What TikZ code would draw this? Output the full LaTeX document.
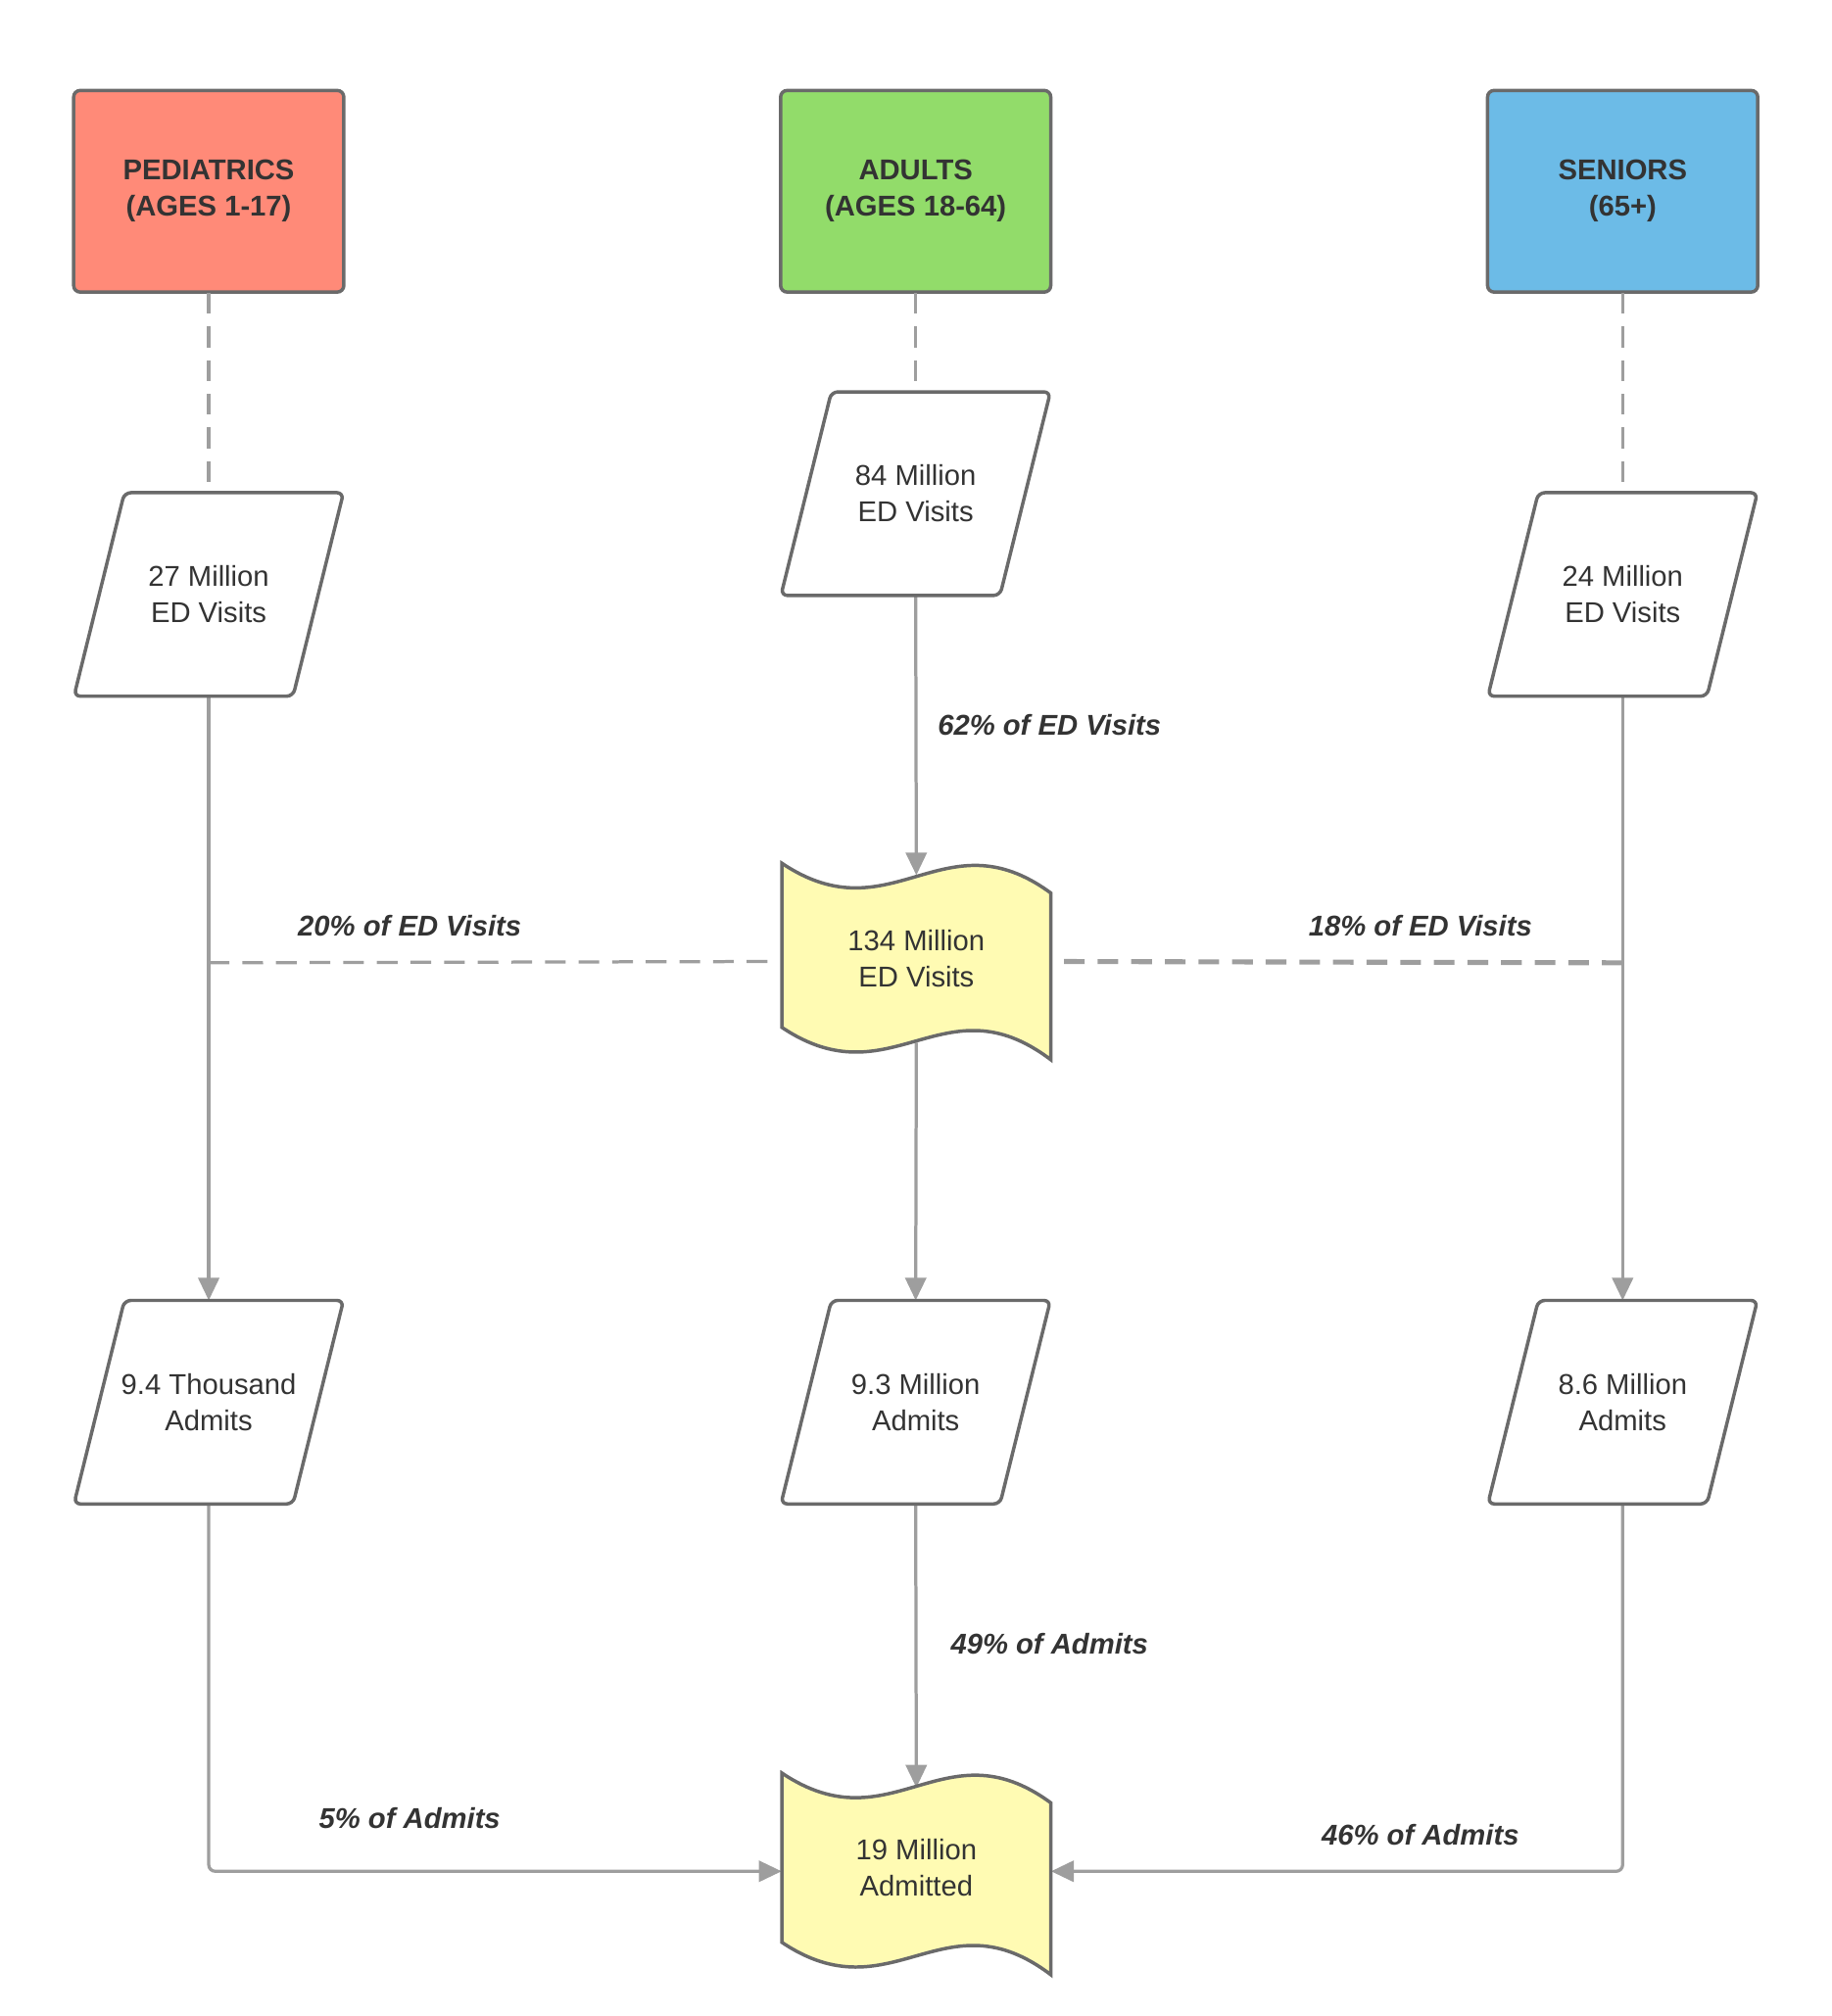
\documentclass[tikz,border=0pt]{standalone}
\usepackage{fontspec}
\setmainfont{Liberation Sans}
\usetikzlibrary{arrows.meta}
\definecolor{cred}{HTML}{FF8A78}
\definecolor{cgreen}{HTML}{92DC6A}
\definecolor{cblue}{HTML}{6CBBE7}
\definecolor{cyel}{HTML}{FFFBB3}
\definecolor{edge}{HTML}{6A6A6A}
\definecolor{conn}{HTML}{9E9E9E}
\definecolor{txt}{HTML}{333333}
\tikzset{
 box/.style={draw=none,minimum width=2.07cm,minimum height=1.56cm,inner sep=0pt,align=center,text=txt,font=\fontsize{6.3}{8}\selectfont},
 head/.style={box,font=\fontsize{6.3}{8}\selectfont\bfseries},
 shp/.style={draw=edge,line width=0.75pt,rounded corners=0.05cm},
 wv/.style={draw=edge,line width=0.75pt,fill=cyel},
 con/.style={draw=conn,line width=0.7pt,-{Triangle[length=5pt,width=4.6pt]}},
 dsh/.style={draw=conn,line width=0.7pt,dash pattern=on 0.16cm off 0.1cm},
 lab/.style={text=txt,font=\fontsize{6.3}{8}\selectfont\bfseries\itshape},
}
\newcommand\para[1]{\draw[shp,fill=white] ([xshift=0.39cm]#1.north west) -- (#1.north east) -- ([xshift=-0.39cm]#1.south east) -- (#1.south west) -- cycle;}
\begin{document}
\begin{tikzpicture}[x=0.01cm,y=-0.01cm]
\useasboundingbox (0,0) rectangle (1417,1560);
% header boxes
\draw[shp,fill=cred] (57,70) rectangle (266,226);
\draw[shp,fill=cgreen] (604,70) rectangle (813,226);
\draw[shp,fill=cblue] (1151,70) rectangle (1360,226);
\node[head] (hp) at (161.5,148) {PEDIATRICS\\(AGES 1-17)};
\node[head] (ha) at (708.5,148) {ADULTS\\(AGES 18-64)};
\node[head] (hs) at (1255.5,148) {SENIORS\\(65+)};
% parallelogram nodes
\node[box] (p1) at (161.5,460) {};
\node[box] (a1) at (708.5,382) {};
\node[box] (s1) at (1255.5,460) {};
\node[box] (p2) at (161.5,1085) {};
\node[box] (a2) at (708.5,1085) {};
\node[box] (s2) at (1255.5,1085) {};
% wave nodes
\node[box,minimum height=1.52cm] (w1) at (709,744) {};
\node[box,minimum height=1.52cm] (w2) at (709,1448) {};
\coordinate (bp) at (161.5,745);
\coordinate (bs) at (1255.5,745);
% connectors
\draw[dsh] (hp.south) -- (p1.north);
\draw[dsh] (ha.south) -- (a1.north);
\draw[dsh] (hs.south) -- (s1.north);
\draw[con] (p1.south) -- (p2.north);
\draw[con] (s1.south) -- (s2.north);
\draw[con] (a1.south) -- ([yshift=-0.1cm]w1.north);
\draw[con] ([yshift=0.14cm]w1.south) -- (a2.north);
\draw[con] (a2.south) -- ([yshift=-0.12cm]w2.north);
\draw[dsh] (bp) -- ([xshift=-0.1cm]w1.west);
\draw[con,draw=none] (bp) -- (w1.west);
\draw[dsh,line width=1.1pt] (bs) -- ([xshift=0.1cm]w1.east);
\draw[con,draw=none] (bs) -- (w1.east);
\draw[con,rounded corners=0.05cm] (p2.south) |- (w2.west);
\draw[con,rounded corners=0.05cm] (s2.south) |- (w2.east);
% shapes
\para{p1}\para{a1}\para{s1}\para{p2}\para{a2}\para{s2}
\draw[wv] (605,668) .. controls (690,725) and (730,630) .. (813,691) -- (813,820)
  .. controls (730,757) and (690,852) .. (605,795) -- cycle;
\draw[wv] (605,1372) .. controls (690,1429) and (730,1334) .. (813,1395) -- (813,1528)
  .. controls (730,1465) and (690,1560) .. (605,1503) -- cycle;
% texts
\node[box,minimum size=0pt] at (p1) {27 Million\\ED Visits};
\node[box,minimum size=0pt] at (a1) {84 Million\\ED Visits};
\node[box,minimum size=0pt] at (s1) {24 Million\\ED Visits};
\node[box,minimum size=0pt] at (p2) {9.4 Thousand\\Admits};
\node[box,minimum size=0pt] at (a2) {9.3 Million\\Admits};
\node[box,minimum size=0pt] at (s2) {8.6 Million\\Admits};
\node[box,minimum size=0pt] at (709,742) {134 Million\\ED Visits};
\node[box,minimum size=0pt] at (709,1445) {19 Million\\Admitted};
\node[lab] at (812,561) {62\% of ED Visits};
\node[lab] at (317,716) {20\% of ED Visits};
\node[lab] at (1099,716) {18\% of ED Visits};
\node[lab] at (812,1272) {49\% of Admits};
\node[lab] at (317,1407) {5\% of Admits};
\node[lab] at (1099,1420) {46\% of Admits};
\end{tikzpicture}
\end{document}
